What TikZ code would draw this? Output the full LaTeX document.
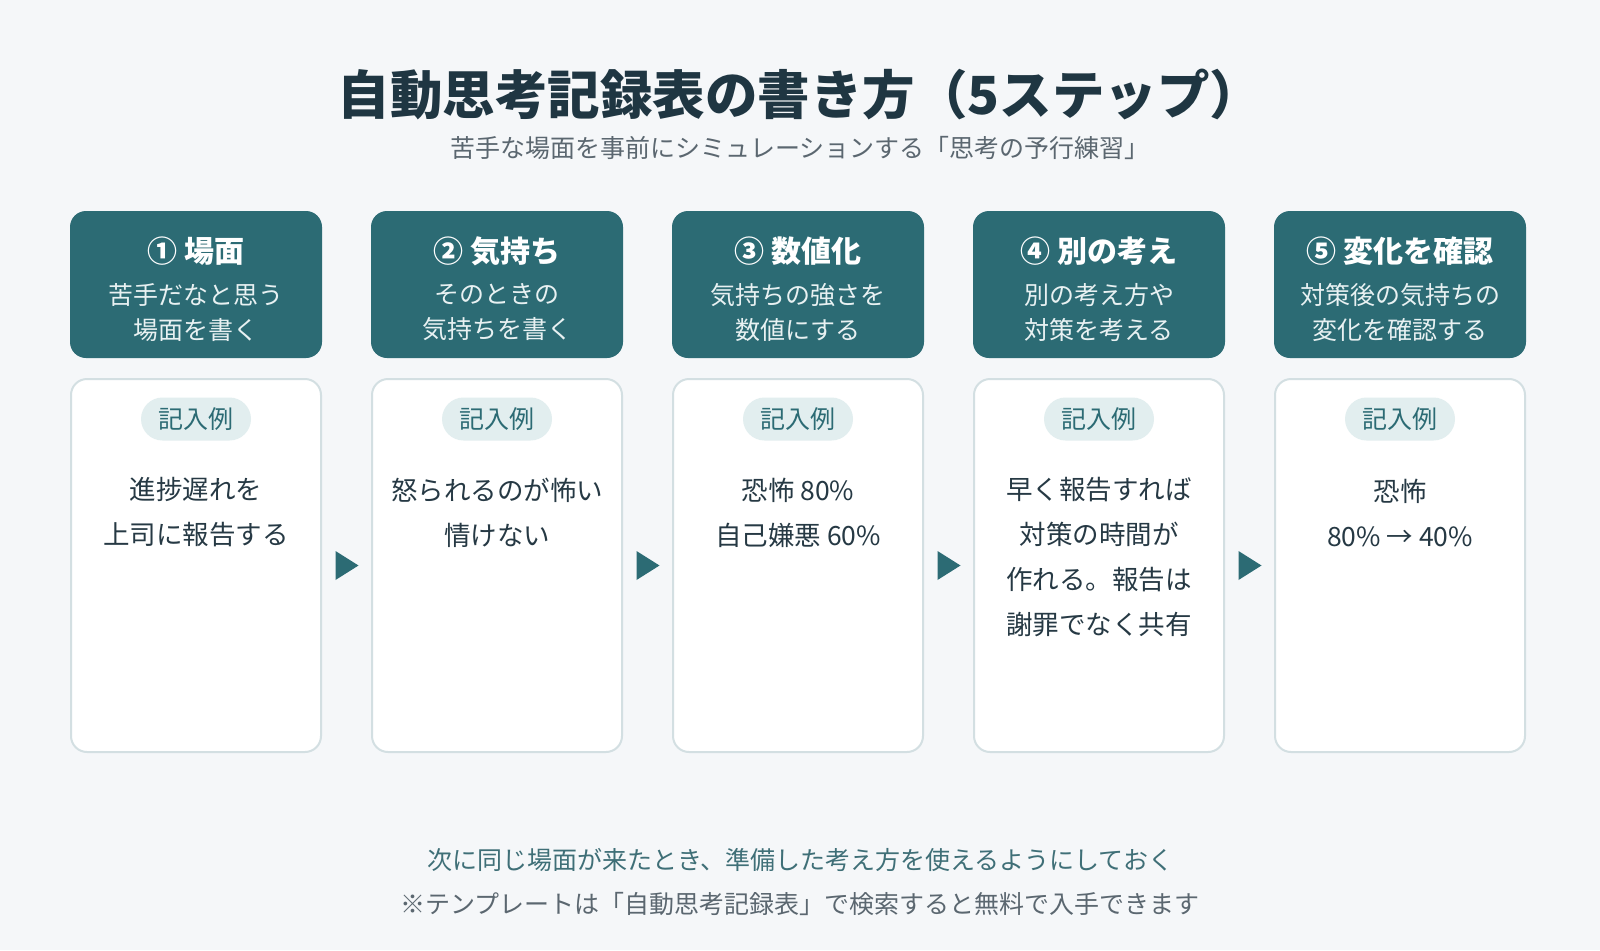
\documentclass[tikz,border=0pt]{standalone}
\usepackage{fontspec}
\setmainfont{Noto Sans CJK JP}
\usetikzlibrary{calc}
\definecolor{bgcol}{HTML}{F5F7F9}
\definecolor{tealc}{HTML}{2C6B74}
\definecolor{titlec}{HTML}{1F3642}
\definecolor{grayc}{HTML}{5B6770}
\definecolor{linec}{HTML}{D3DFE2}
\definecolor{badgec}{HTML}{E2EEEF}
\definecolor{bodyc}{HTML}{263944}
\definecolor{headtxt}{HTML}{E8F1F2}
\definecolor{footc}{HTML}{3F6F77}
\tikzset{head/.style = {fill=tealc, rounded corners=16, minimum width=252, minimum height=147, inner sep=0}}
\tikzset{htitle/.style = {text=white, font=\fontsize{30}{30}\selectfont\bfseries}}
\tikzset{hsub/.style = {text=headtxt, align=center, font=\fontsize{25}{35}\selectfont}}
\tikzset{card/.style = {draw=linec, line width=2, fill=white, rounded corners=16, minimum width=250, minimum height=373, inner sep=0}}
\tikzset{badge/.style = {fill=badgec, text=tealc, rounded corners=21.5, minimum width=110, minimum height=43, inner sep=0, font=\fontsize{25}{25}\selectfont}}
\tikzset{ex/.style = {text=bodyc, align=center, font=\fontsize{26.5}{45}\selectfont}}
\tikzset{tri/.style = {fill=tealc}}

\begin{document}
\begin{tikzpicture}[x=1pt, y=-1pt]
    \useasboundingbox (0,0) rectangle (1600,950);
    \fill [bgcol] (0,0) rectangle (1600,950);
    \node [text=titlec, font=\fontsize{52.5}{52.5}\selectfont\bfseries] (title) at (800,94) {自動思考記録表の書き方（5ステップ）};
    \node [text=grayc, font=\fontsize{25}{25}\selectfont] (subtitle) at (800,148) {苦手な場面を事前にシミュレーションする「思考の予行練習」};

    % headers
    \node [head] (h1) at (196,284.5) {};
    \node [head] (h2) at (497,284.5) {};
    \node [head] (h3) at (798,284.5) {};
    \node [head] (h4) at (1099,284.5) {};
    \node [head] (h5) at (1400,284.5) {};
    \node [htitle] (t1) at (196,251) {① 場面};
    \node [htitle] (t2) at (497,251) {② 気持ち};
    \node [htitle] (t3) at (798,251) {③ 数値化};
    \node [htitle] (t4) at (1099,251) {④ 別の考え};
    \node [htitle] (t5) at (1400,251) {⑤ 変化を確認};
    \node [hsub] (s1) at (196,312.5) {苦手だなと思う\\場面を書く};
    \node [hsub] (s2) at (497,312.5) {そのときの\\気持ちを書く};
    \node [hsub] (s3) at (798,312.5) {気持ちの強さを\\数値にする};
    \node [hsub] (s4) at (1099,312.5) {別の考え方や\\対策を考える};
    \node [hsub] (s5) at (1400,312.5) {対策後の気持ちの\\変化を確認する};

    % cards
    \node [card] (c1) at (196,565.5) {};
    \node [card] (c2) at (497,565.5) {};
    \node [card] (c3) at (798,565.5) {};
    \node [card] (c4) at (1099,565.5) {};
    \node [card] (c5) at (1400,565.5) {};
    \node [badge] (b1) at (196,419) {記入例};
    \node [badge] (b2) at (497,419) {記入例};
    \node [badge] (b3) at (798,419) {記入例};
    \node [badge] (b4) at (1099,419) {記入例};
    \node [badge] (b5) at (1400,419) {記入例};
    \node [ex] (e1) at (196,512.5) {進捗遅れを\\上司に報告する};
    \node [ex] (e2) at (497,512.5) {怒られるのが怖い\\情けない};
    \node [ex] (e3) at (798,512.5) {恐怖 80\%\\自己嫌悪 60\%};
    \node [ex] (e4) at (1099,557) {早く報告すれば\\対策の時間が\\作れる。報告は\\謝罪でなく共有};
    \node [ex] (e5) at (1400,512.5) {恐怖\\80\% → 40\%};

    % arrows
    \fill [tri] ($(c1.east)!0.5!(c2.west)$) ++(-11,-14.5) -- ++(23,14.5) -- ++(-23,14.5) -- cycle;
    \fill [tri] ($(c2.east)!0.5!(c3.west)$) ++(-11,-14.5) -- ++(23,14.5) -- ++(-23,14.5) -- cycle;
    \fill [tri] ($(c3.east)!0.5!(c4.west)$) ++(-11,-14.5) -- ++(23,14.5) -- ++(-23,14.5) -- cycle;
    \fill [tri] ($(c4.east)!0.5!(c5.west)$) ++(-11,-14.5) -- ++(23,14.5) -- ++(-23,14.5) -- cycle;

    \node [text=footc, font=\fontsize{25}{25}\selectfont] (foot1) at (800,860) {次に同じ場面が来たとき、準備した考え方を使えるようにしておく};
    \node [text=grayc, font=\fontsize{25}{25}\selectfont] (foot2) at (800,904) {※テンプレートは「自動思考記録表」で検索すると無料で入手できます};
\end{tikzpicture}
\end{document}
